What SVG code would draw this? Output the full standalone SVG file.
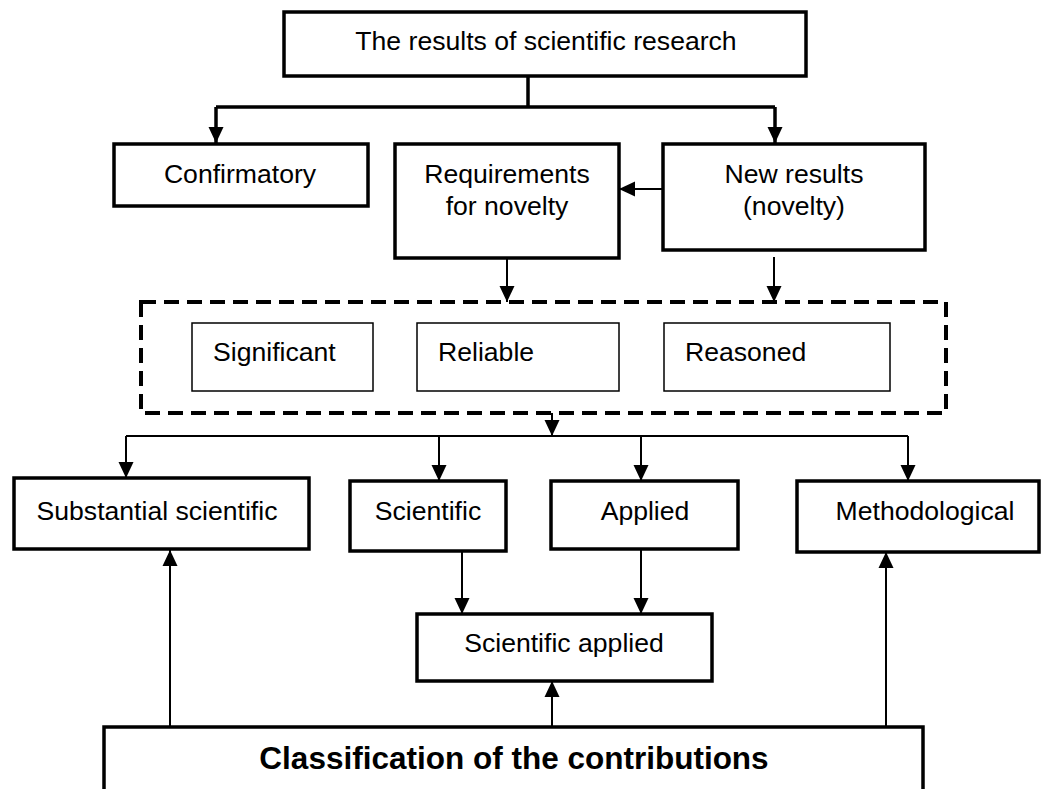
<svg xmlns="http://www.w3.org/2000/svg" width="1046" height="789" viewBox="0 0 1046 789">
<defs>
<style>
.box{fill:#fff;stroke:#000;stroke-width:3.5}
.thin{fill:#fff;stroke:#000;stroke-width:1.5}
.dash{fill:none;stroke:#000;stroke-width:4;stroke-dasharray:15 8}
text{font-family:"Liberation Sans",Arial,sans-serif;font-size:26.6px;fill:#000}
.c{text-anchor:middle}
.b{font-weight:bold;font-size:31.5px}
.w{fill:none;stroke:#000;stroke-width:3.5}
.n{fill:none;stroke:#000;stroke-width:2}
</style>
<marker id="ah" markerUnits="userSpaceOnUse" markerWidth="16" markerHeight="16" viewBox="0 0 16 16" refX="16" refY="8" orient="auto">
<path d="M0,0.5 L16,8 L0,15.5 z" fill="#000"/>
</marker>
</defs>
<rect width="1046" height="789" fill="#fff"/>
<g id="connectors">
<path class="w" d="M528,76 V107 M216,107 H775"/>
<path class="w" d="M216,107 V143" marker-end="url(#ah)"/>
<path class="w" d="M775,107 V143" marker-end="url(#ah)"/>
<path class="n" d="M662,189 H619" marker-end="url(#ah)"/>
<path class="n" d="M507,257 V302" marker-end="url(#ah)"/>
<path class="n" d="M774,257 V302" marker-end="url(#ah)"/>
<path class="n" d="M552,413 V436" marker-end="url(#ah)"/>
<path class="n" d="M126,436 H908"/>
<path class="n" d="M126,436 V478" marker-end="url(#ah)"/>
<path class="n" d="M439,436 V481" marker-end="url(#ah)"/>
<path class="n" d="M641,436 V481" marker-end="url(#ah)"/>
<path class="n" d="M908,436 V481" marker-end="url(#ah)"/>
<path class="n" d="M462,551 V614" marker-end="url(#ah)"/>
<path class="n" d="M641,549 V614" marker-end="url(#ah)"/>
<path class="n" d="M170,727 V550" marker-end="url(#ah)"/>
<path class="n" d="M552,727 V681" marker-end="url(#ah)"/>
<path class="n" d="M886,727 V552" marker-end="url(#ah)"/>
</g>
<g id="top">
<rect class="box" x="284" y="12" width="522" height="64"/>
<text class="c" x="546" y="50">The results of scientific research</text>
</g>
<g id="confirmatory">
<rect class="box" x="114" y="144" width="254" height="62"/>
<text class="c" x="240" y="183">Confirmatory</text>
</g>
<g id="requirements">
<rect class="box" x="395" y="144" width="224" height="114"/>
<text class="c" x="507" y="183">Requirements</text>
<text class="c" x="507" y="215">for novelty</text>
</g>
<g id="newresults">
<rect class="box" x="663" y="144" width="262" height="106"/>
<text class="c" x="794" y="183">New results</text>
<text class="c" x="794" y="215">(novelty)</text>
</g>
<g id="group">
<rect class="dash" x="141" y="302" width="805" height="111"/>
</g>
<g id="significant">
<rect class="thin" x="192" y="323" width="181" height="68"/>
<text x="213" y="361">Significant</text>
</g>
<g id="reliable">
<rect class="thin" x="417" y="323" width="202" height="68"/>
<text x="438" y="361">Reliable</text>
</g>
<g id="reasoned">
<rect class="thin" x="664" y="323" width="226" height="68"/>
<text x="685" y="361">Reasoned</text>
</g>
<g id="substantial">
<rect class="box" x="14" y="478" width="295" height="71"/>
<text class="c" x="157" y="520">Substantial scientific</text>
</g>
<g id="scientific">
<rect class="box" x="350" y="481" width="156" height="70"/>
<text class="c" x="428" y="520">Scientific</text>
</g>
<g id="applied">
<rect class="box" x="551" y="481" width="187" height="68"/>
<text class="c" x="645" y="520">Applied</text>
</g>
<g id="methodological">
<rect class="box" x="797" y="481" width="242" height="71"/>
<text class="c" x="925" y="520">Methodological</text>
</g>
<g id="sciapplied">
<rect class="box" x="417" y="614" width="295" height="67"/>
<text class="c" x="564" y="652">Scientific applied</text>
</g>
<g id="classification">
<rect class="box" x="104" y="727" width="819" height="80"/>
<text class="c b" x="514" y="769">Classification of the contributions</text>
</g>
</svg>
